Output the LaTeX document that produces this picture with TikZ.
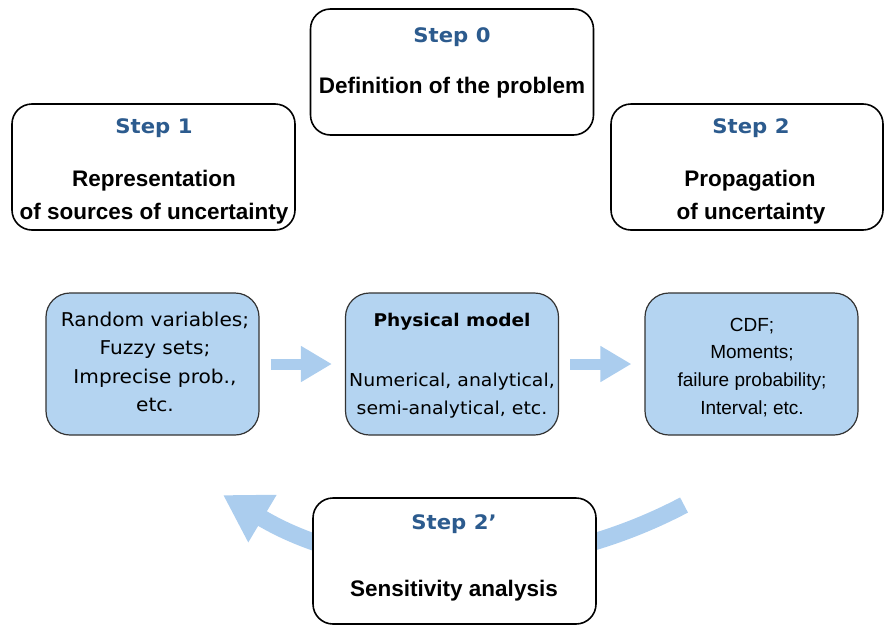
\documentclass[tikz,border=0pt]{standalone}
\usepackage{fontspec}
\setmainfont{Liberation Sans}
\newfontfamily\lucfont{DejaVu Sans}[FakeStretch=1.06]
\usetikzlibrary{arrows.meta}
\definecolor{stepblue}{HTML}{2C5B8E}
\definecolor{boxblue}{HTML}{B4D4F1}
\definecolor{arrowblue}{HTML}{ABCDEE}
\begin{document}
\begin{tikzpicture}[x=1pt, y=-1pt,
    stepbox/.style={draw=black, line width=1.6pt, rounded corners=20pt, fill=white,
      minimum width=283pt, minimum height=126pt, inner sep=0pt},
    bluebox/.style={draw=black!80, line width=1.2pt, rounded corners=24pt, fill=boxblue,
      minimum width=213pt, minimum height=142pt, inner sep=0pt},
    steptitle/.style={anchor=base, inner sep=0pt, text=stepblue,
      font=\lucfont\bfseries\fontsize{20}{24}\selectfont},
    stepbody/.style={anchor=base, inner sep=0pt, font=\bfseries\fontsize{22.5}{27}\selectfont},
    luctext/.style={anchor=base, inner sep=0pt, font=\lucfont\fontsize{19}{23}\selectfont},
    ariatext/.style={anchor=base, inner sep=0pt, font=\fontsize{19}{23}\selectfont},
    flowarrow/.style={arrowblue, line width=11pt, -{Triangle[length=31pt,width=34pt]},
      shorten <=11pt, shorten >=13pt}]
  \useasboundingbox (0,0) rectangle (885,624);
  % loop arrow behind step 2'
  \coordinate (loopstart) at (684,505);
  \coordinate (loopend) at (223,495);
  \draw[arrowblue, line width=17pt, -{Triangle[length=46pt,width=52pt]}]
    (loopstart) .. controls (540,581) and (367,581) .. (loopend);
  % steps
  \node[stepbox] (s0) at (452,72) {};
  \node[stepbox] (s1) at (153.5,167) {};
  \node[stepbox, minimum width=272pt] (s2) at (747,167) {};
  \node[stepbox] (s2p) at (454.5,561) {};
  \node[steptitle] (s0t) at (452,42) {Step 0};
  \node[stepbody] (s0b) at (452,93) {Definition of the problem};
  \node[steptitle] (s1t) at (154,133) {Step 1};
  \node[stepbody] (s1a) at (154,186) {Representation};
  \node[stepbody] (s1b) at (154,219) {of sources of uncertainty};
  \node[steptitle] (s2t) at (751,133) {Step 2};
  \node[stepbody] (s2a) at (750,186) {Propagation};
  \node[stepbody] (s2b) at (751,219) {of uncertainty};
  \node[steptitle] (s2pt) at (454,529) {Step 2’};
  \node[stepbody] (s2pb) at (454,596) {Sensitivity analysis};
  % chain of blue boxes
  \node[bluebox] (rv) at (152.5,364) {};
  \node[bluebox] (pm) at (452,364) {};
  \node[bluebox] (out) at (751.5,364) {};
  \foreach \txt [count=\i from 0] in {{Random variables;},{Fuzzy sets;},{Imprecise prob.,},{etc.}}
    \node[luctext] (rv-\i) at (155,326+28.5*\i) {\txt};
  \node[luctext, font=\lucfont\bfseries\fontsize{17.5}{21}\selectfont] (pm-0) at (452,326) {Physical model};
  \node[luctext, font=\lucfont\fontsize{17.8}{21}\selectfont] (pm-1) at (452,386) {Numerical, analytical,};
  \node[luctext, font=\lucfont\fontsize{17.8}{21}\selectfont] (pm-2) at (452,414) {semi-analytical, etc.};
  \foreach \txt [count=\i from 0] in {{CDF;},{Moments;},{failure probability;},{Interval; etc.}}
    \node[ariatext] (out-\i) at (752,331+27.7*\i) {\txt};
  \draw[flowarrow] (rv) -- (pm);
  \draw[flowarrow] (pm) -- (out);
\end{tikzpicture}
\end{document}
